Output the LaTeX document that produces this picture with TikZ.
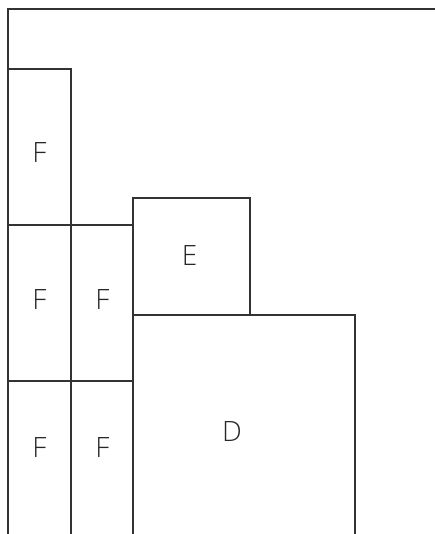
\documentclass[tikz,border=0pt]{standalone}
\usepackage{fontspec}
\setmainfont{Open Sans}[UprightFont={* Light}]
\newcommand{\CA}{8}
\newcommand{\CB}{71}
\newcommand{\CC}{133}
\begin{document}
\begin{tikzpicture}[
    x=1pt, y=-1pt,
    wall/.style={draw=black!80, line width=1.1pt},
    tag/.style={font=\fontsize{28}{30}\selectfont, text=black!85, inner sep=0pt},
  ]
  \useasboundingbox (0,0) rectangle (435,534);
  \clip (0,0) rectangle (435,534);

  %% ================= outer frame (open to the right and bottom) =========
  \draw[wall] (\CA,545) -- (\CA,9) -- (445,9);

  %% ================= the F cells =================
  \draw[wall] (\CA,69) -- (\CB,69) -- (\CB,545);
  \foreach \y in {225,381} {
    \draw[wall] (\CA,\y) -- (\CC,\y);
  }

  \node[tag] (f1) at (39.5,153)    {F};
  \node[tag] (f2) at (39.5,299.5)  {F};
  \node[tag] (f3) at (102.5,299.5) {F};
  \node[tag] (f4) at (39.5,447.5)  {F};
  \node[tag] (f5) at (102.5,447.5) {F};

  %% ================= E and D =================
  \draw[wall] (\CC,545) -- (\CC,198) -- (250,198) -- (250,315);
  \draw[wall] (\CC,315) -- (355,315) -- (355,545);

  \node[tag] (e) at (189.5,256) {E};
  \node[tag] (d) at (232,432)   {D};

\end{tikzpicture}
\end{document}
